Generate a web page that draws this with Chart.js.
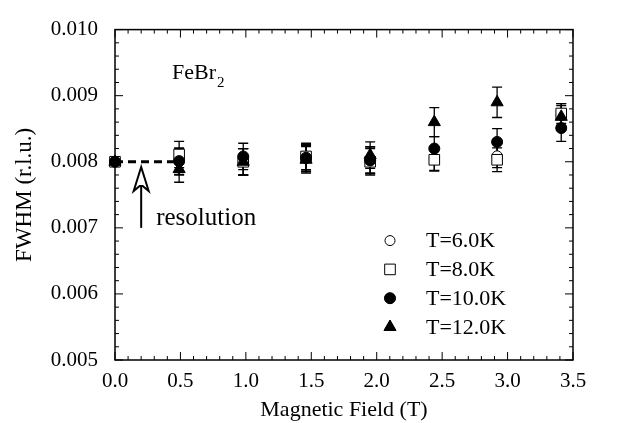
<!DOCTYPE html>
<html>
<head>
<meta charset="utf-8">
<script src="https://cdn.jsdelivr.net/npm/chart.js@4/dist/chart.umd.min.js"></script>
<style>
  html, body { margin: 0; padding: 0; background: #fff; }
  #wrap { width: 630px; height: 423px; }
</style>
</head>
<body>
<div id="wrap"><canvas id="c"></canvas></div>
<script>
// magnetic field (T) for every measurement
var fields = [0, 0.49, 0.98, 1.46, 1.95, 2.44, 2.92, 3.41];

// FWHM (r.l.u.) and error bars, one pair per temperature
var fwhm6  = [0.0080, 0.00800, 0.00800, 0.00805, 0.00803, 0.00805, 0.00809, 0.00870];
var err6   = [0,      0.00020, 0.00020, 0.00020, 0.00020, 0.00018, 0.00018, 0.00015];
var fwhm8  = [0.0080, 0.00811, 0.00800, 0.00808, 0.00800, 0.00803, 0.00803, 0.00873];
var err8   = [0,      0.00020, 0.00020, 0.00020, 0.00020, 0.00017, 0.00018, 0.00015];
var fwhm10 = [0.0080, 0.00801, 0.00808, 0.00806, 0.00802, 0.00820, 0.00830, 0.00851];
var err10  = [0,      0.00020, 0.00020, 0.00020, 0.00020, 0.00018, 0.00020, 0.00020];
var fwhm12 = [0.0080, 0.00789, 0.00800, 0.00803, 0.00810, 0.00860, 0.00890, 0.00868];
var err12  = [0,      0.00020, 0.00020, 0.00020, 0.00020, 0.00022, 0.00023, 0.00020];

var seriesNames = ["T=6.0K", "T=8.0K", "T=10.0K", "T=12.0K"];

// instrumental resolution line and arrow
var resolution = 0.0080;
var resolutionFields = [0, 0.45];
var arrowField = 0.2;
var arrowTip = 0.00792;
var arrowTail = 0.00700;

var FONT = "'Liberation Serif', 'Times New Roman', serif";
Chart.defaults.font.family = FONT;
Chart.defaults.color = "#000";

function pts(ys) {
  return fields.map(function (x, i) { return { x: x, y: ys[i] }; });
}

var datasets = [
  { label: seriesNames[0], data: pts(fwhm6), errors: err6, pointStyle: "circle", pointRadius: 5,
    backgroundColor: "#fff", borderColor: "#000", borderWidth: 1, showLine: false, order: 4, clip: false },
  { label: seriesNames[1], data: pts(fwhm8), errors: err8, pointStyle: "rect", pointRadius: 7.5,
    backgroundColor: "#fff", borderColor: "#000", borderWidth: 1, showLine: false, order: 3, clip: false },
  { label: seriesNames[2], data: pts(fwhm10), errors: err10, pointStyle: "circle", pointRadius: 5.5,
    backgroundColor: "#000", borderColor: "#000", borderWidth: 1, showLine: false, order: 2, clip: false },
  { label: seriesNames[3], data: pts(fwhm12), errors: err12, pointStyle: "triangle", pointRadius: 7,
    backgroundColor: "#000", borderColor: "#000", borderWidth: 1, showLine: false, order: 1, clip: false },
  { label: "resolution", data: resolutionFields.map(function (x) { return { x: x, y: resolution }; }),
    showLine: true, borderColor: "#000", borderWidth: 3, borderDash: [8, 5], pointRadius: 0, order: 5 }
];

var errorBars = {
  id: "errorBars",
  beforeDatasetsDraw: function (chart) {
    var ctx = chart.ctx, ys = chart.scales.y;
    ctx.save();
    ctx.strokeStyle = "#000";
    ctx.lineWidth = 1.3;
    chart.data.datasets.forEach(function (ds, i) {
      if (!ds.errors) return;
      var meta = chart.getDatasetMeta(i);
      meta.data.forEach(function (el, j) {
        var e = ds.errors[j];
        if (!e) return;
        var v = ds.data[j].y;
        var y1 = ys.getPixelForValue(v + e), y2 = ys.getPixelForValue(v - e);
        ctx.beginPath();
        ctx.moveTo(el.x, y1); ctx.lineTo(el.x, y2);
        ctx.moveTo(el.x - 5, y1); ctx.lineTo(el.x + 5, y1);
        ctx.moveTo(el.x - 5, y2); ctx.lineTo(el.x + 5, y2);
        ctx.stroke();
      });
    });
    ctx.restore();
  }
};

var frameAndExtras = {
  id: "frameAndExtras",
  beforeDatasetsDraw: function (chart) {
    var ctx = chart.ctx, a = chart.chartArea, xs = chart.scales.x, ys = chart.scales.y;
    ctx.save();
    ctx.strokeStyle = "#000";
    ctx.lineWidth = 1.5;
    ctx.strokeRect(a.left, a.top, a.right - a.left, a.bottom - a.top);
    ctx.lineWidth = 1;
    ctx.beginPath();
    for (var k = 0; k <= 35; k++) {
      var px = xs.getPixelForValue(k / 10);
      var len = (k % 5 === 0) ? 8 : 4;
      ctx.moveTo(px, a.bottom); ctx.lineTo(px, a.bottom - len);
      ctx.moveTo(px, a.top); ctx.lineTo(px, a.top + len);
    }
    for (var m = 0; m <= 25; m++) {
      var py = ys.getPixelForValue(0.005 + m * 0.0002);
      var l2 = (m % 5 === 0) ? 8 : 4;
      ctx.moveTo(a.left, py); ctx.lineTo(a.left + l2, py);
      ctx.moveTo(a.right, py); ctx.lineTo(a.right - l2, py);
    }
    ctx.stroke();
    ctx.restore();
  },
  afterDraw: function (chart) {
    var ctx = chart.ctx, a = chart.chartArea, xs = chart.scales.x, ys = chart.scales.y;
    ctx.save();
    ctx.strokeStyle = "#000";

    // resolution arrow
    var ax = xs.getPixelForValue(arrowField);
    var at = ys.getPixelForValue(arrowTip);
    var ab = ys.getPixelForValue(arrowTail);
    ctx.lineWidth = 2;
    ctx.beginPath();
    ctx.moveTo(ax, at);
    ctx.lineTo(ax + 7.5, at + 24);
    ctx.lineTo(ax + 1.5, at + 19);
    ctx.lineTo(ax - 1.5, at + 19);
    ctx.lineTo(ax - 7.5, at + 24);
    ctx.closePath();
    ctx.stroke();
    ctx.beginPath();
    ctx.moveTo(ax, at + 19); ctx.lineTo(ax, ab);
    ctx.stroke();

    ctx.fillStyle = "#000";
    ctx.textBaseline = "alphabetic";
    ctx.textAlign = "left";
    ctx.font = "25px " + FONT;
    ctx.fillText("resolution", ax + 15, ab - 3);

    // compound label
    ctx.font = "22px " + FONT;
    var fx = a.left + 57, fy = a.top + 49;
    ctx.fillText("FeBr", fx, fy);
    var w = ctx.measureText("FeBr").width;
    ctx.font = "15px " + FONT;
    ctx.fillText("2", fx + w + 1, fy + 8);

    // legend
    var lx = a.left + 275, ly = a.top + 211, step = 28.8;
    ctx.font = "22px " + FONT;
    ctx.textBaseline = "middle";
    for (var i = 0; i < 4; i++) {
      var ds = chart.data.datasets[i];
      ctx.fillStyle = ds.backgroundColor;
      ctx.strokeStyle = ds.borderColor;
      ctx.lineWidth = ds.borderWidth;
      ctx.beginPath();
      Chart.helpers.drawPoint(ctx, { pointStyle: ds.pointStyle, radius: ds.pointRadius, rotation: 0 }, lx, ly + i * step);
      ctx.fill();
      ctx.stroke();
      ctx.fillStyle = "#000";
      ctx.fillText(seriesNames[i], lx + 36, ly + i * step + 1);
    }
    ctx.restore();
  }
};

new Chart(document.getElementById("c"), {
  type: "scatter",
  data: { datasets: datasets },
  options: {
    responsive: true,
    maintainAspectRatio: false,
    animation: false,
    events: [],
    layout: { padding: { top: 18, right: 57, left: 0, bottom: 0 } },
    plugins: { legend: { display: false }, tooltip: { enabled: false } },
    scales: {
      x: {
        type: "linear", min: 0, max: 3.5,
        afterFit: function (s) { s.height = 63; },
        grid: { display: false, drawTicks: false },
        border: { display: false },
        ticks: { stepSize: 0.5, padding: 9, font: { size: 21 },
          callback: function (v) { return Number(v).toFixed(1); } },
        title: { display: true, text: "Magnetic Field (T)", font: { size: 22 }, padding: { top: 0, bottom: 0 } }
      },
      y: {
        type: "linear", min: 0.005, max: 0.010,
        afterFit: function (s) { s.width = 115; },
        grid: { display: false, drawTicks: false },
        border: { display: false },
        ticks: { stepSize: 0.001, padding: 17, font: { size: 21 },
          callback: function (v) { return Number(v).toFixed(3); } },
        title: { display: true, text: "FWHM (r.l.u.)", font: { size: 23 }, padding: { top: 11, bottom: 0 } }
      }
    }
  },
  plugins: [errorBars, frameAndExtras]
});
</script>
</body>
</html>
